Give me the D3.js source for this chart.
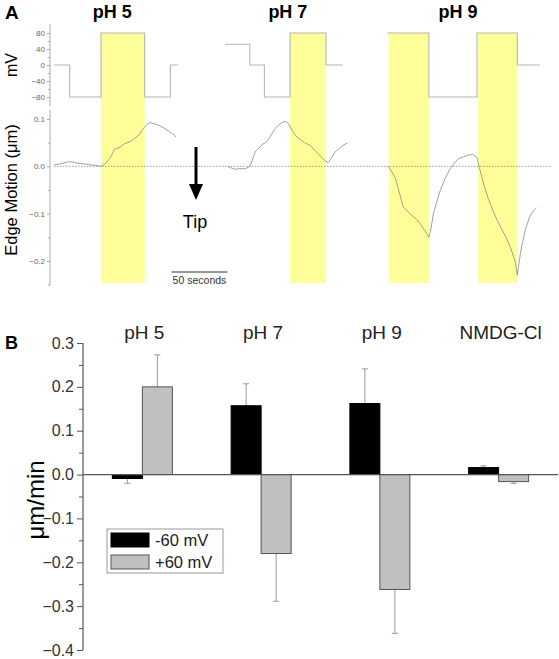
<!DOCTYPE html>
<html><head><meta charset="utf-8">
<script src="https://cdn.jsdelivr.net/npm/d3@7"></script>
<style>body{margin:0;background:#fff}svg{display:block;font-family:"Liberation Sans",Arial,sans-serif}</style>
</head><body><svg id="c" width="559" height="659"></svg>
<script>
// ---------- Panel A data ----------
const panelATitles = ["pH 5", "pH 7", "pH 9"];
const panelATitleTimes = [52, 209, 361];
const mvTicks = [80, 40, 0, -40, -80];
const edgeTicks = [0.1, 0.0, -0.1, -0.2];
// pulse (+80 mV) windows, seconds
const pulseStart = [42, 211, 299, 379];
const pulseEnd = [81, 243, 335, 414];
// voltage protocol segments: [time s, mV]
const vPH5 = [[0,0],[14,0],[14,-80],[42,-80],[42,80],[81,80],[81,-80],[104,-80],[104,0],[111,0]];
const vPH7 = [[153,52],[175,52],[175,0],[188,0],[188,-80],[211,-80],[211,80],[243,80],[243,0],[258,0]];
const vPH9 = [[298,80],[335,80],[335,-80],[378,-80],[378,80],[414,80],[414,0],[434,0]];
// edge motion traces: time (s) and displacement (µm)
const tPH5 = [0,5,10,14,19,23,28,32,37,42,46,50,54,59,63,68,72,76,79,83,86,88,91,95,99,102,106,109];
const ePH5 = [0.003,0.005,0.008,0.010,0.008,0.006,0.005,0.003,0.002,0.000,0.006,0.017,0.036,0.040,0.048,0.052,0.059,0.066,0.078,0.088,0.093,0.091,0.089,0.085,0.080,0.075,0.069,0.062];
const tPH7 = [155,159,162,166,171,175,178,180,183,186,190,193,197,200,204,207,209,213,217,221,224,229,233,238,242,245,248,251,255,258,262];
const ePH7 = [0.000,-0.004,-0.006,-0.005,-0.005,0.000,0.018,0.032,0.038,0.046,0.052,0.062,0.078,0.086,0.093,0.095,0.092,0.075,0.062,0.055,0.050,0.044,0.034,0.022,0.012,0.008,0.018,0.030,0.038,0.044,0.049];
const tPH9 = [299,302,305,308,312,316,320,324,328,332,335,337,339,342,345,349,354,358,362,366,370,374,378,380,384,388,392,396,400,404,408,412,414,417,421,425,428,431];
const ePH9 = [0.000,-0.012,-0.025,-0.050,-0.086,-0.095,-0.104,-0.112,-0.124,-0.138,-0.150,-0.130,-0.100,-0.075,-0.052,-0.028,-0.005,0.008,0.017,0.020,0.024,0.025,0.019,-0.002,-0.038,-0.068,-0.092,-0.114,-0.132,-0.150,-0.172,-0.200,-0.230,-0.180,-0.135,-0.107,-0.095,-0.088];
const scaleBarSeconds = [105, 155];

// ---------- Panel B data ----------
const categories = ["pH 5", "pH 7", "pH 9", "NMDG-Cl"];
const seriesNames = ["-60 mV", "+60 mV"];
const neg60 = [-0.009, 0.157, 0.162, 0.016];
const neg60Err = [0.011, 0.050, 0.079, 0.004];
const pos60 = [0.200, -0.180, -0.262, -0.016];
const pos60Err = [0.073, 0.109, 0.100, 0.004];
const bTicks = [0.3, 0.2, 0.1, 0.0, -0.1, -0.2, -0.3, -0.4];

const svg = d3.select("#c");

// ================= PANEL A =================
const xA = d3.scaleLinear().domain([0, 445]).range([54, 552]);
const yV = d3.scaleLinear().domain([-80, 80]).range([97, 33]);
const yE = d3.scaleLinear().domain([-0.2, 0.1]).range([261, 119]);

svg.append("text").attr("x", 5).attr("y", 19).attr("font-size", 19).attr("font-weight", "bold").text("A");
svg.selectAll(".atitle").data(panelATitles).enter().append("text")
  .attr("x", (d, i) => xA(panelATitleTimes[i])).attr("y", 18)
  .attr("text-anchor", "middle").attr("font-size", 18).attr("font-weight", "bold").text(d => d);

// yellow bands
svg.selectAll(".band").data(pulseStart).enter().append("rect")
  .attr("x", (d) => xA(d)).attr("width", (d, i) => xA(pulseEnd[i]) - xA(d))
  .attr("y", yV(80)).attr("height", 283 - yV(80)).attr("fill", "#ffff99");

// voltage traces
const vLine = d3.line().x(d => xA(d[0])).y(d => yV(d[1]));
[vPH5, vPH7, vPH9].forEach(v => {
  svg.append("path").attr("d", vLine(v)).attr("fill", "none").attr("stroke", "#b5b5b5").attr("stroke-width", 1.1);
});

// zero dotted line
svg.append("line").attr("x1", xA(0)).attr("x2", xA(445)).attr("y1", yE(0)).attr("y2", yE(0))
  .attr("stroke", "#888").attr("stroke-width", 0.8).attr("stroke-dasharray", "1.5,1.5");

// edge traces
const eLine = d3.line().x(d => xA(d[0])).y(d => yE(d[1])).curve(d3.curveLinear);
[[tPH5, ePH5], [tPH7, ePH7], [tPH9, ePH9]].forEach(([t, e]) => {
  svg.append("path").attr("d", eLine(t.map((tt, i) => [tt, e[i]])))
    .attr("fill", "none").attr("stroke", "#888").attr("stroke-width", 0.8);
});

// axes A
const axV = svg.append("g").attr("transform", "translate(50,0)")
  .call(d3.axisLeft(yV).tickValues(mvTicks).tickSize(3).tickPadding(2).tickFormat(d3.format("d")));
axV.select(".domain").remove();
svg.append("line").attr("x1", 50).attr("x2", 50).attr("y1", 24).attr("y2", 106).attr("stroke", "#aaa");
svg.append("g").attr("transform", "translate(50,0)")
  .call(d3.axisLeft(yV).tickValues([60, 20, -20, -60]).tickSize(2).tickFormat(""))
  .select(".domain").remove();
const axE = svg.append("g").attr("transform", "translate(50,0)")
  .call(d3.axisLeft(yE).tickValues(edgeTicks).tickSize(3).tickPadding(2).tickFormat(d3.format(".1f")));
axE.select(".domain").remove();
svg.append("line").attr("x1", 50).attr("x2", 50).attr("y1", 110).attr("y2", 285).attr("stroke", "#aaa");
svg.append("g").attr("transform", "translate(50,0)")
  .call(d3.axisLeft(yE).tickValues([0.05, -0.05, -0.15, -0.25]).tickSize(2).tickFormat(""))
  .select(".domain").remove();
[axV, axE].forEach(a => {
  a.selectAll("text").attr("font-size", 8).attr("fill", "#666").attr("font-family", "Liberation Sans, Arial");
});
svg.selectAll(".tick line").attr("stroke", "#aaa");

svg.append("text").attr("transform", "translate(17,65) rotate(-90)").attr("text-anchor", "middle")
  .attr("font-size", 16).text("mV");
svg.append("text").attr("transform", "translate(17,190) rotate(-90)").attr("text-anchor", "middle")
  .attr("font-size", 16.5).text("Edge Motion (\u03bcm)");

// arrow + Tip
svg.append("line").attr("x1", 196).attr("x2", 196).attr("y1", 147).attr("y2", 187)
  .attr("stroke", "#000").attr("stroke-width", 3);
svg.append("path").attr("d", "M189,184 L203,184 L196,200 Z").attr("fill", "#000");
svg.append("text").attr("x", 195).attr("y", 228).attr("text-anchor", "middle").attr("font-size", 18).text("Tip");

// scale bar
svg.append("line").attr("x1", xA(scaleBarSeconds[0])).attr("x2", xA(scaleBarSeconds[1]))
  .attr("y1", 272).attr("y2", 272).attr("stroke", "#333").attr("stroke-width", 1);
svg.append("text").attr("x", (xA(scaleBarSeconds[0]) + xA(scaleBarSeconds[1])) / 2).attr("y", 284)
  .attr("text-anchor", "middle").attr("font-size", 10.5).attr("fill", "#333").text("50 seconds");

// ================= PANEL B =================
const yB = d3.scaleLinear().domain([-0.4, 0.3]).range([650, 343]);
const x0 = d3.scaleBand().domain(categories).range([83, 558]);
const x1 = d3.scaleBand().domain(seriesNames).range([0, 60]);
const groupLeft = c => x0(c) + x0.bandwidth() / 2 - 30;

svg.append("text").attr("x", 5).attr("y", 349).attr("font-size", 18).attr("font-weight", "bold").text("B");

const axB = svg.append("g").attr("transform", "translate(83,0)")
  .call(d3.axisLeft(yB).tickValues(bTicks).tickSize(6).tickPadding(3).tickFormat(d3.format(".1f")));
axB.select(".domain").remove();
axB.selectAll("text").attr("font-size", 16).attr("fill", "#333").attr("font-family", "Liberation Sans, Arial");
axB.selectAll("line").attr("stroke", "#555");
svg.append("g").attr("transform", "translate(83,0)")
  .call(d3.axisLeft(yB).tickValues([0.25, 0.15, 0.05, -0.05, -0.15, -0.25, -0.35]).tickSize(4).tickFormat(""))
  .call(g => { g.select(".domain").remove(); g.selectAll("line").attr("stroke", "#555"); });
svg.append("line").attr("x1", 83).attr("x2", 83).attr("y1", yB(0.3)).attr("y2", yB(-0.4)).attr("stroke", "#555").attr("stroke-width", 1.2);

svg.append("text").attr("transform", "translate(44,500) rotate(-90)").attr("text-anchor", "middle")
  .attr("font-size", 24).text("\u03bcm/min");

svg.selectAll(".cat").data(categories).enter().append("text")
  .attr("x", d => x0(d) + x0.bandwidth() / 2 + 2).attr("y", 339)
  .attr("text-anchor", "middle").attr("font-size", 19).attr("fill", "#222").text(d => d);

const series = [
  { name: seriesNames[0], vals: neg60, errs: neg60Err, fill: "#000", stroke: "#000" },
  { name: seriesNames[1], vals: pos60, errs: pos60Err, fill: "#c0c0c0", stroke: "#555" }
];

// error bars (drawn first so bars overlap the stem)
series.forEach(s => {
  categories.forEach((c, i) => {
    const cx = groupLeft(c) + x1(s.name) + x1.bandwidth() / 2;
    const v = s.vals[i], e = s.errs[i];
    const end = v >= 0 ? v + e : v - e;
    svg.append("line").attr("x1", cx).attr("x2", cx).attr("y1", yB(v)).attr("y2", yB(end))
      .attr("stroke", "#999").attr("stroke-width", 1);
    svg.append("line").attr("x1", cx - 3).attr("x2", cx + 3).attr("y1", yB(end)).attr("y2", yB(end))
      .attr("stroke", "#999").attr("stroke-width", 1);
  });
});

series.forEach(s => {
  svg.selectAll(null).data(categories).enter().append("rect")
    .attr("x", c => groupLeft(c) + x1(s.name))
    .attr("width", x1.bandwidth())
    .attr("y", (c, i) => yB(Math.max(0, s.vals[i])))
    .attr("height", (c, i) => Math.abs(yB(s.vals[i]) - yB(0)))
    .attr("fill", s.fill).attr("stroke", s.stroke).attr("stroke-width", 1);
});

// zero line
svg.append("line").attr("x1", 83).attr("x2", 558).attr("y1", yB(0)).attr("y2", yB(0))
  .attr("stroke", "#555").attr("stroke-width", 1.2);

// legend
const lg = svg.append("g");
lg.append("rect").attr("x", 107).attr("y", 529).attr("width", 116).attr("height", 44)
  .attr("fill", "#fff").attr("stroke", "#999");
series.forEach((s, i) => {
  lg.append("rect").attr("x", 111).attr("y", 533 + i * 22).attr("width", 38).attr("height", 14)
    .attr("fill", s.fill).attr("stroke", s.stroke);
  lg.append("text").attr("x", 155).attr("y", 546 + i * 22).attr("font-size", 16.5).attr("fill", "#222").text(s.name);
});
</script></body></html>
